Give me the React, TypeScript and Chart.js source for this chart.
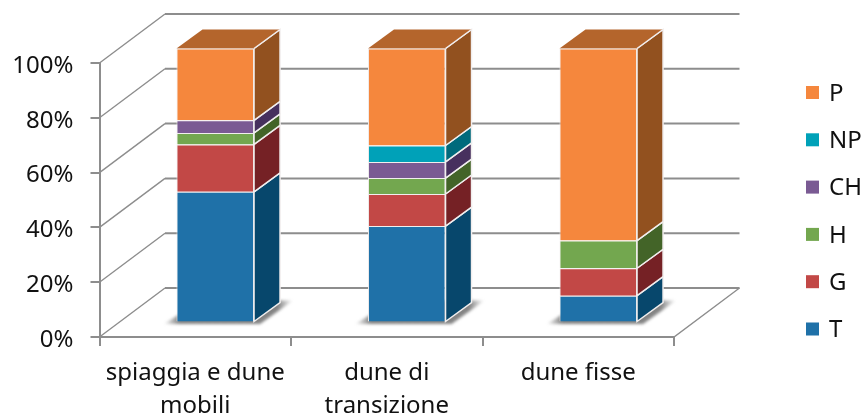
import React, { useEffect, useRef } from "react";
import { Chart, registerables } from "chart.js";

Chart.register(...registerables);

const categories = [["spiaggia e dune", "mobili"], ["dune di", "transizione"], "dune fisse"];
const seriesT = [47.7, 35.2, 9.8];
const seriesG = [17.3, 11.7, 10.0];
const seriesH = [4.2, 5.8, 10.1];
const seriesCH = [4.6, 5.9, null];
const seriesNP = [null, 6.0, null];
const seriesP = [26.2, 35.4, 70.1];

const FONT = "'Noto Sans'";
const TEXT = "#111111";
const GRID = "#8d8d8d";
const EDGE = "#f1eeee";

// Oblique projection of the box: wall depth and bar depth, in pixels.
const WALL_DX = 65.5;
const WALL_DY = -49;
const BAR_DX = 26;
const BAR_DY = -19;
const BAR_SHIFT_X = 20;
const BAR_SHIFT_Y = -14.5;

const TOP_FACE = "#b4652c";

function poly(ctx: CanvasRenderingContext2D, pts: number[][], fill: string, stroke?: string) {
  ctx.beginPath();
  pts.forEach((p, i) => (i ? ctx.lineTo(p[0], p[1]) : ctx.moveTo(p[0], p[1])));
  ctx.closePath();
  ctx.fillStyle = fill;
  ctx.fill();
  if (stroke) {
    ctx.strokeStyle = stroke;
    ctx.lineWidth = 1.5;
    ctx.stroke();
  }
}

// Back wall and floor of the 3D box, tied to the value and category scales.
const wallPlugin = {
  id: "wall",
  beforeDatasetsDraw(chart: any) {
    const { ctx, scales } = chart;
    const { x, y } = scales;
    const left = x.left;
    const right = x.right;
    ctx.save();
    ctx.strokeStyle = GRID;
    y.ticks.forEach((t: any) => {
      const py = y.getPixelForValue(t.value);
      ctx.lineWidth = 1.4;
      ctx.beginPath();
      ctx.moveTo(left, py);
      ctx.lineTo(left + WALL_DX, py + WALL_DY);
      ctx.stroke();
      ctx.lineWidth = 2;
      ctx.beginPath();
      ctx.moveTo(left + WALL_DX, py + WALL_DY);
      ctx.lineTo(right + WALL_DX, py + WALL_DY);
      ctx.stroke();
    });
    const floor = y.getPixelForValue(0);
    ctx.lineWidth = 1.4;
    ctx.beginPath();
    ctx.moveTo(right + WALL_DX, floor + WALL_DY);
    ctx.lineTo(right, floor);
    ctx.lineTo(left, floor);
    ctx.stroke();
    ctx.restore();
  },
};

// Soft floor shadow, side faces and top faces; the front faces are the chart's own bars.
const barDepthPlugin = {
  id: "barDepth",
  beforeDatasetsDraw(chart: any) {
    const { ctx } = chart;
    ctx.save();
    ctx.translate(BAR_SHIFT_X, BAR_SHIFT_Y);

    const first = chart.getDatasetMeta(0).data;
    first.forEach((bar: any) => {
      const l = bar.x - bar.width / 2;
      const r = bar.x + bar.width / 2;
      const b = bar.base;
      const g = ctx.createLinearGradient(l - 13, 0, r + BAR_DX + 13, 0);
      g.addColorStop(0, "rgba(90,90,90,0)");
      g.addColorStop(0.12, "rgba(90,90,90,0.75)");
      g.addColorStop(0.88, "rgba(90,90,90,0.75)");
      g.addColorStop(1, "rgba(90,90,90,0)");
      ctx.save();
      ctx.filter = "blur(1.5px)";
      poly(ctx, [
        [l - 13, b + 2.5],
        [r + 6, b + 2.5],
        [r + BAR_DX + 13, b + BAR_DY - 2],
        [l + BAR_DX, b + BAR_DY - 2],
      ], g);
      ctx.restore();
    });

    chart.data.datasets.forEach((ds: any, i: number) => {
      chart.getDatasetMeta(i).data.forEach((bar: any, j: number) => {
        if (ds.data[j] == null) return;
        const r = bar.x + bar.width / 2;
        const l = bar.x - bar.width / 2;
        poly(ctx, [
          [r, bar.base],
          [r + BAR_DX, bar.base + BAR_DY],
          [r + BAR_DX, bar.y + BAR_DY],
          [r, bar.y],
        ], ds.sideColor, EDGE);
        if (i === chart.data.datasets.length - 1) {
          poly(ctx, [
            [l, bar.y],
            [r, bar.y],
            [r + BAR_DX, bar.y + BAR_DY],
            [l + BAR_DX, bar.y + BAR_DY],
          ], TOP_FACE);
          ctx.strokeStyle = EDGE;
          ctx.lineWidth = 1.5;
          ctx.beginPath();
          ctx.moveTo(r, bar.y);
          ctx.lineTo(r + BAR_DX, bar.y + BAR_DY);
          ctx.stroke();
        }
      });
    });
    // Left translated for the chart's own bars; restored once they are drawn.
  },
  afterDatasetsDraw(chart: any) {
    chart.ctx.restore();
  },
};

// Value labels sit slightly below their tick marks, so they are placed from the scale here.
const valueLabelPlugin = {
  id: "valueLabels",
  afterDraw(chart: any) {
    const { ctx } = chart;
    const y = chart.scales.y;
    ctx.save();
    ctx.font = `24px ${FONT}`;
    ctx.fillStyle = TEXT;
    ctx.textAlign = "right";
    ctx.textBaseline = "middle";
    y.ticks.forEach((t: any) => {
      ctx.fillText(t.label, 73.5, y.getPixelForValue(t.value) + 3);
    });
    ctx.restore();
  },
};

// Key in reversed stacking order, to the right of the box.
const keyPlugin = {
  id: "key",
  afterDraw(chart: any) {
    const { ctx } = chart;
    const items = [...chart.data.datasets].reverse();
    ctx.save();
    ctx.font = `24px ${FONT}`;
    ctx.textBaseline = "middle";
    items.forEach((ds: any, i: number) => {
      const cy = 92.5 + i * 47.3;
      ctx.fillStyle = ds.backgroundColor;
      ctx.fillRect(806, cy - 6.5, 13, 13);
      ctx.fillStyle = TEXT;
      ctx.fillText(ds.label, 829, cy + 1.5);
    });
    ctx.restore();
  },
};

export default function App() {
  const ref = useRef<HTMLCanvasElement>(null);
  useEffect(() => {
    const make = (label: string, data: (number | null)[], backgroundColor: string, sideColor: string) => ({
      label,
      data,
      backgroundColor,
      sideColor,
      borderColor: EDGE,
      borderWidth: 1,
      clip: false,
      barPercentage: 0.405,
      categoryPercentage: 1,
    });
    const chart = new Chart(ref.current as HTMLCanvasElement, {
      type: "bar",
      data: {
        labels: categories,
        datasets: [
          make("T", seriesT, "#1f71a8", "#07476c"),
          make("G", seriesG, "#c24846", "#752125"),
          make("H", seriesH, "#73a74f", "#436428"),
          make("CH", seriesCH, "#7a5a93", "#47305e"),
          make("NP", seriesNP, "#00a1b8", "#006a7c"),
          make("P", seriesP, "#f5873d", "#92511f"),
        ] as any,
      },
      options: {
        responsive: false,
        animation: false,
        layout: { padding: { top: 63, right: 189, left: 0, bottom: 0 } },
        plugins: { legend: { display: false }, tooltip: { enabled: false } },
        scales: {
          x: {
            stacked: true,
            afterFit: (s: any) => { s.height = 81; },
            grid: { drawOnChartArea: false, color: GRID, lineWidth: 2, tickLength: 9 },
            border: { color: GRID, width: 2 },
            ticks: {
              color: TEXT,
              font: { family: FONT, size: 24, lineHeight: 1.4 },
              maxRotation: 0,
              autoSkip: false,
              padding: 10,
            },
          },
          y: {
            stacked: true,
            min: 0,
            max: 100,
            afterFit: (s: any) => { s.width = 99.5; },
            grid: { drawOnChartArea: false, color: GRID, lineWidth: 2, tickLength: 9 },
            border: { color: GRID, width: 2 },
            ticks: {
              display: false,
              stepSize: 20,
              callback: (v: any) => `${v}%`,
            },
          },
        },
      },
      plugins: [wallPlugin, barDepthPlugin, valueLabelPlugin, keyPlugin],
    } as any);
    return () => chart.destroy();
  }, []);
  return (
    <div style={{ position: "absolute", left: 0, top: 0, width: 863, height: 418 }}>
      <canvas ref={ref} width={863} height={418} style={{ display: "block" }} />
    </div>
  );
}
